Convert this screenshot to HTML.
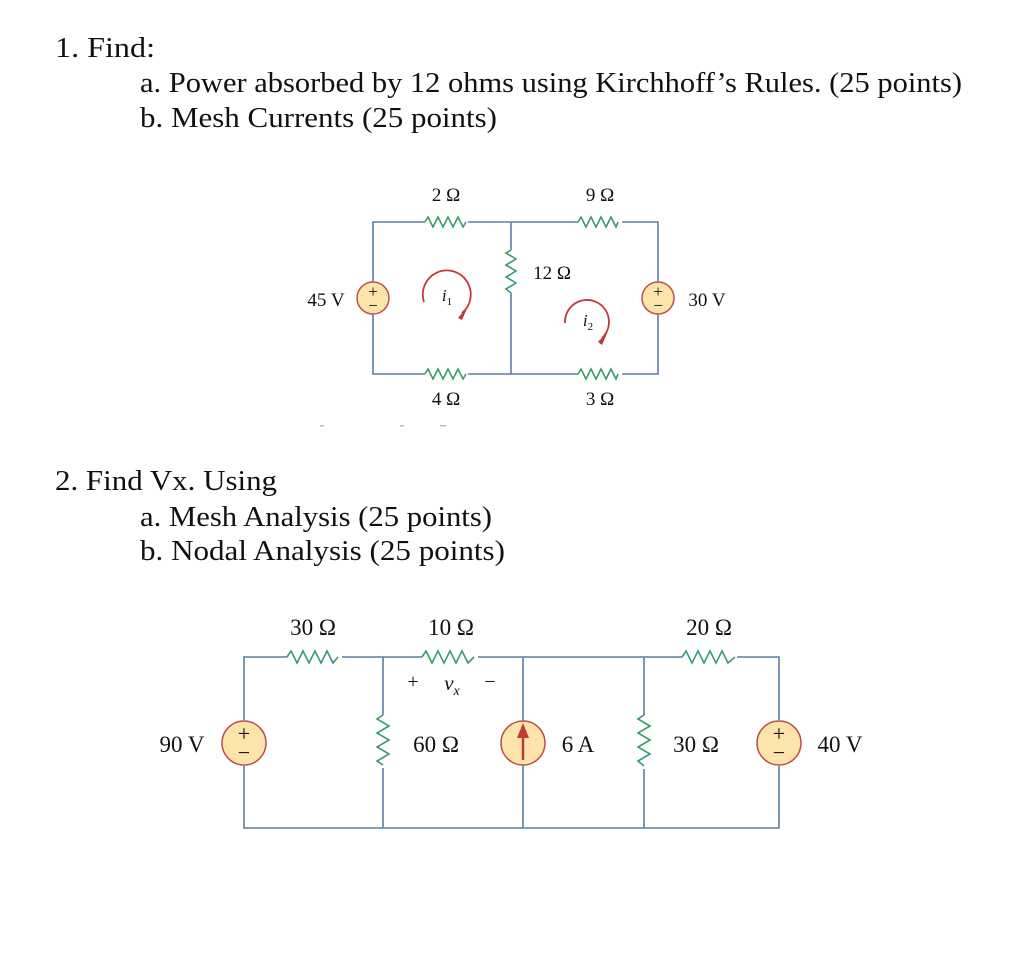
<!DOCTYPE html>
<html><head><meta charset="utf-8"><style>
html,body{margin:0;padding:0;background:#fff;}
svg{display:block;font-family:"Liberation Serif","Times New Roman",Times,serif;}
svg text{font-family:"Liberation Serif","Times New Roman",Times,serif;fill:#111;}
</style></head><body>
<svg width="1024" height="967" viewBox="0 0 1024 967" xmlns="http://www.w3.org/2000/svg" font-family="Liberation Serif, Times New Roman, serif">
<g font-size="29">
<text x="55" y="57" textLength="100" lengthAdjust="spacingAndGlyphs">1. Find:</text>
<text x="140" y="92" textLength="822" lengthAdjust="spacingAndGlyphs">a. Power absorbed by 12 ohms using Kirchhoff’s Rules. (25 points)</text>
<text x="140" y="127" textLength="357" lengthAdjust="spacingAndGlyphs">b. Mesh Currents (25 points)</text>
<text x="55" y="490" textLength="222" lengthAdjust="spacingAndGlyphs">2. Find Vx. Using</text>
<text x="140" y="526" textLength="352" lengthAdjust="spacingAndGlyphs">a. Mesh Analysis (25 points)</text>
<text x="140" y="560" textLength="365" lengthAdjust="spacingAndGlyphs">b. Nodal Analysis (25 points)</text>
</g>

<!-- Circuit 1 -->
<g stroke="#5a7fa4" stroke-width="1.6" fill="none">
<path d="M373 282 V222 H425 M468 222 H578 M622 222 H658 V282"/>
<path d="M373 314 V374 H425 M468 374 H578 M622 374 H658 V314"/>
<path d="M511 222 V250 M511 293 V374"/>
</g>
<g stroke="#3a9a6a" stroke-width="1.6" fill="none">
<path d="M425 222 l3 -5 l5 10 l5 -10 l5 10 l5 -10 l5 10 l5 -10 l5 10 l3 -5"/>
<path d="M578 222 l3 -5 l5 10 l5 -10 l5 10 l5 -10 l5 10 l5 -10 l5 10 l2 -5"/>
<path d="M425 374 l3 -5 l5 10 l5 -10 l5 10 l5 -10 l5 10 l5 -10 l5 10 l3 -5"/>
<path d="M578 374 l3 -5 l5 10 l5 -10 l5 10 l5 -10 l5 10 l5 -10 l5 10 l2 -5"/>
<path d="M511 250 l-5 3 l10 6 l-10 6 l10 6 l-10 6 l10 6 l-10 6 l5 4"/>
</g>
<g stroke="#c0504d" stroke-width="1.5" fill="#fde4ab">
<circle cx="373" cy="298" r="16"/>
<circle cx="658" cy="298" r="16"/>
</g>
<g font-size="17" text-anchor="middle">
<text x="373" y="297" fill="#c0504d">+</text><text x="373" y="311" fill="#c0504d">−</text>
<text x="658" y="297" fill="#c0504d">+</text><text x="658" y="311" fill="#c0504d">−</text>
</g>
<g stroke="#c0393b" stroke-width="1.8" fill="none">
<path d="M424 302 A24 24 0 1 1 462 313"/>
<path d="M565 323 A22 22 0 1 1 602 338"/>
</g>
<path d="M458 318 L468 306 L462 320 Z" fill="#c0393b"/>
<path d="M598 342 L608 331 L602 345 Z" fill="#c0393b"/>
<g font-size="19" text-anchor="middle">
<text x="446" y="201">2 Ω</text>
<text x="600" y="201">9 Ω</text>
<text x="446" y="405">4 Ω</text>
<text x="600" y="405">3 Ω</text>
<text x="552" y="279">12 Ω</text>
<text x="326" y="306">45 V</text>
<text x="707" y="306">30 V</text>
<text x="447" y="301" font-style="italic" font-size="17">i<tspan font-size="11" dy="4" font-style="normal">1</tspan></text>
<text x="588" y="326" font-style="italic" font-size="17">i<tspan font-size="11" dy="4" font-style="normal">2</tspan></text>
</g>
<g fill="#bbb"><rect x="320" y="425" width="4" height="1.5"/><rect x="400" y="425" width="4" height="1.5"/><rect x="440" y="425" width="6" height="1.5"/></g>

<!-- Circuit 2 -->
<g stroke="#5a7fa4" stroke-width="1.6" fill="none">
<path d="M244 720 V657 H287 M342 657 H422 M478 657 H682 M737 657 H779 V720"/>
<path d="M244 766 V828 H779 V766"/>
<path d="M383 657 V715 M383 768 V828"/>
<path d="M523 657 V828"/>
<path d="M644 657 V715 M644 769 V828"/>
</g>
<g stroke="#3a9a6a" stroke-width="1.6" fill="none">
<path d="M287 657 l4 -6 l6 12 l6 -12 l6 12 l6 -12 l6 12 l6 -12 l6 12 l5 -6"/>
<path d="M422 657 l4 -6 l6 12 l6 -12 l6 12 l6 -12 l6 12 l6 -12 l6 12 l6 -6"/>
<path d="M682 657 l4 -6 l6 12 l6 -12 l6 12 l6 -12 l6 12 l6 -12 l6 12 l7 -6"/>
<path d="M383 715 l-6 4 l12 7 l-12 7 l12 7 l-12 7 l12 7 l-12 7 l6 4"/>
<path d="M644 715 l-6 4 l12 7 l-12 7 l12 7 l-12 7 l12 7 l-12 7 l6 5"/>
</g>
<g stroke="#c0504d" stroke-width="1.5" fill="#fde4ab">
<circle cx="244" cy="743" r="22"/>
<circle cx="523" cy="743" r="22"/>
<circle cx="779" cy="743" r="22"/>
</g>
<g font-size="22" text-anchor="middle">
<text x="244" y="741" fill="#c0504d">+</text><text x="244" y="760" fill="#c0504d">−</text>
<text x="779" y="741" fill="#c0504d">+</text><text x="779" y="760" fill="#c0504d">−</text>
</g>
<path d="M523 760 V735" stroke="#c0393b" stroke-width="2.5"/>
<path d="M517 738 L523 723 L529 738 Z" fill="#c0393b"/>
<g font-size="23" text-anchor="middle">
<text x="313" y="635">30 Ω</text>
<text x="451" y="635">10 Ω</text>
<text x="709" y="635">20 Ω</text>
<text x="182" y="752">90 V</text>
<text x="436" y="752">60 Ω</text>
<text x="578" y="752">6 A</text>
<text x="696" y="752">30 Ω</text>
<text x="840" y="752">40 V</text>
<text x="413" y="688" font-size="20">+</text>
<text x="452" y="690" font-style="italic" font-size="21">v<tspan font-size="14" dy="5">x</tspan></text>
<text x="490" y="688" font-size="20">−</text>
</g>
</svg>
</body></html>
